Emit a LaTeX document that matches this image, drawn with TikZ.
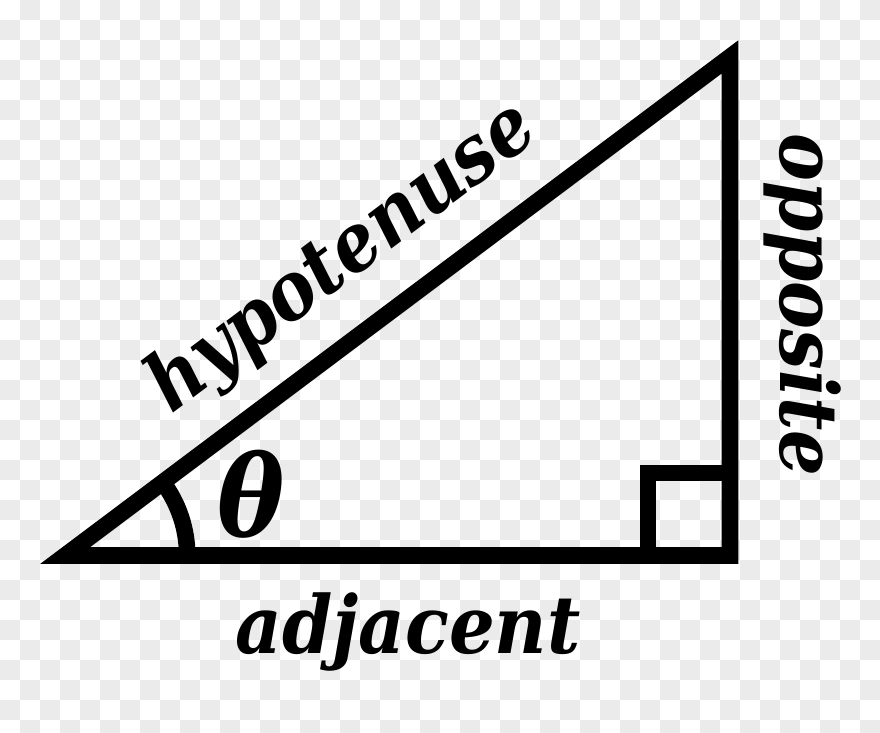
\documentclass[tikz,border=0pt]{standalone}
\usepackage{fontspec}
\setmainfont{DejaVu Serif Condensed}
\definecolor{checkgray}{RGB}{235,235,235}
\tikzset{
    side/.style={line width=8.3pt, line join=miter},
    lbl/.style={font=\fontsize{40}{40}\selectfont\bfseries\itshape, inner sep=0pt}
}
\begin{document}
\begin{tikzpicture}[x=0.5pt, y=0.5pt]
    \useasboundingbox (0,0) rectangle (880,733);

    % Hintergrund (Schachbrett)
    \begin{scope}
        \clip (0,0) rectangle (880,733);
        \foreach \i in {0,...,43} {
            \foreach \j in {0,...,36} {
                \pgfmathparse{int(mod(\i+\j,2))}
                \ifnum\pgfmathresult=1
                    \fill[checkgray] (\i*20, 733-\j*20) rectangle (\i*20+20, 713-\j*20);
                \fi
            }
        }
    \end{scope}

    % Ecken
    \coordinate (A) at (65.2,177.5);
    \coordinate (B) at (730,177.5);
    \coordinate (C) at (730,676.1);

    % Dreieck
    \draw[side] (A) -- (B) -- (C) -- cycle;

    % rechter Winkel
    \draw[side] (648,177.5) -- (648,260) -- (730,260);

    % Winkelbogen
    \draw[side] (A) ++(122,0) arc[start angle=0, end angle=36.87, radius=122];

    % Beschriftungen
    \node[lbl, font=\fontsize{56}{56}\selectfont\bfseries\itshape] (theta) at (251.5,239) {θ};
    \node[lbl, anchor=base] (adj) at (408,79) {adjacent};
    \node[lbl, anchor=base, rotate=36.87] (hyp) at (356,457) {hypotenuse};
    \node[lbl, anchor=base, rotate=-90] (opp) at (780,428) {opposite};
\end{tikzpicture}
\end{document}
